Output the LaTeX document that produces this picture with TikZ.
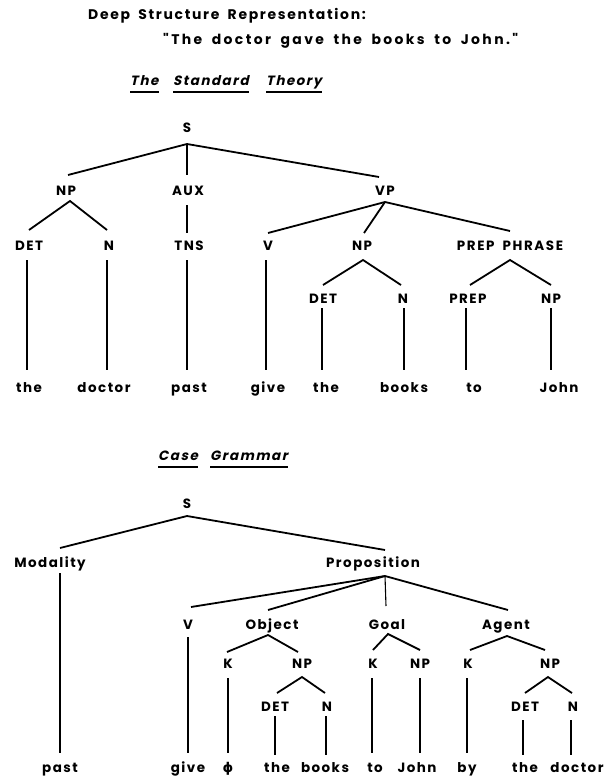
\documentclass[tikz,border=0pt]{standalone}
\usepackage{fontspec}
\setmainfont{Poppins}[LetterSpace=11]
\newfontfamily\slfont{Poppins}[FakeSlant=0.22,LetterSpace=11]
\newfontfamily\wideA{Poppins}[LetterSpace=12,WordSpace=1.8]
\newfontfamily\wideB{Poppins}[LetterSpace=17,WordSpace=1.8]
\newfontfamily\phifont{DejaVu Sans}
\usetikzlibrary{calc}
\begin{document}
\begin{tikzpicture}[x=1bp,y=-1bp,
  lab/.style={inner sep=0pt, anchor=base, font=\fontsize{13.5}{16}\selectfont\bfseries},
  ttl/.style={inner sep=0pt, anchor=base west},
  itl/.style={inner sep=0pt, anchor=base west, font=\fontsize{13.5}{16}\slfont\bfseries},
  br/.style={line width=1.8bp},
  stem/.style={line width=1.1bp},
  ul/.style={line width=1.5bp}]
\useasboundingbox (0,0) rectangle (613,779);
% titles
\node[ttl, font=\fontsize{14}{16}\wideA\bfseries] (t1) at (88,20) {Deep Structure Representation:};
\node[ttl, font=\fontsize{14}{16}\wideB\bfseries] (t2) at (163,45) {"The doctor gave the books to John."};
\node[itl] (w1) at (130,85) {The};
\node[itl] (w2) at (173,85) {Standard};
\node[itl] (w3) at (266,85) {Theory};
\foreach \w in {w1,w2,w3}{\draw[ul] ($(\w.base west)+(0,7)$) -- ($(\w.base east)+(0,7)$);}
% ---------- standard theory tree ----------
\node[lab] (S1) at (187,132) {S};
\coordinate (a0) at (187,144);
\node[lab] (NP1) at (66,195) {NP};
\coordinate (np1t) at (68,175); \coordinate (np1a) at (70,201);
\node[lab] (AUX) at (188,195) {AUX};
\coordinate (auxt) at (187,175); \coordinate (auxb) at (187,205);
\node[lab] (VP) at (385,195) {VP};
\coordinate (vpt) at (379,177); \coordinate (vpa) at (385,202);
\draw[br] (np1t) -- (a0) -- (vpt);
\draw[stem] (a0) -- (auxt);
\node[lab] (DET1) at (29,250) {DET};
\coordinate (det1t) at (29,230); \coordinate (det1b) at (27,260);
\node[lab] (N1) at (109,250) {N};
\coordinate (n1t) at (107,230); \coordinate (n1b) at (107,260);
\draw[br] (det1t) -- (np1a) -- (n1t);
\node[lab] (TNS) at (189,250) {TNS};
\coordinate (tnst) at (187,233); \coordinate (tnsb) at (187,260);
\draw[stem] (auxb) -- (tnst);
\node[lab] (V1) at (268,250) {V};
\coordinate (v1t) at (268,233); \coordinate (v1b) at (266,260);
\node[lab] (NP2) at (362,250) {NP};
\coordinate (np2t) at (364,233); \coordinate (np2a) at (363,260);
\node[lab, font=\fontsize{13.5}{16}\wideA\bfseries] (PP) at (510,250) {PREP PHRASE};
\coordinate (ppt) at (510,231); \coordinate (ppa) at (510,260);
\draw[br] (v1t) -- (vpa) -- (ppt);
\draw[br] (vpa) -- (np2t);
\node[lab] (DET2) at (323,303) {DET};
\coordinate (det2t) at (323,285); \coordinate (det2b) at (322,308);
\node[lab] (N2) at (403,303) {N};
\coordinate (n2t) at (401,285); \coordinate (n2b) at (404,308);
\draw[br] (det2t) -- (np2a) -- (n2t);
\node[lab] (PREP) at (468,303) {PREP};
\coordinate (prept) at (470,285); \coordinate (prepb) at (466,308);
\node[lab] (NP3) at (551,303) {NP};
\coordinate (np3t) at (551,285); \coordinate (np3b) at (551,308);
\draw[br] (prept) -- (ppa) -- (np3t);
% leaves
\node[lab] (L1) at (29,392) {the};
\node[lab] (L2) at (104,392) {doctor};
\node[lab] (L3) at (189,392) {past};
\node[lab] (L4) at (268,392) {give};
\node[lab] (L5) at (326,392) {the};
\node[lab] (L6) at (404,392) {books};
\node[lab] (L7) at (474,392) {to};
\node[lab] (L8) at (559,392) {John};
\coordinate (l1) at (27,370); \coordinate (l2) at (107,370);
\coordinate (l3) at (187,370); \coordinate (l4) at (266,370);
\coordinate (l5) at (322,370); \coordinate (l6) at (404,370);
\coordinate (l7) at (466,370); \coordinate (l8) at (551,370);
\draw[stem] (det1b) -- (l1);
\draw[stem] (n1b) -- (l2);
\draw[stem] (tnsb) -- (l3);
\draw[stem] (v1b) -- (l4);
\draw[stem] (det2b) -- (l5);
\draw[stem] (n2b) -- (l6);
\draw[stem] (prepb) -- (l7);
\draw[stem] (np3b) -- (l8);
% ---------- case grammar ----------
\node[itl] (c1) at (158,460) {Case};
\node[itl] (c2) at (210,460) {Grammar};
\foreach \w in {c1,c2}{\draw[ul] ($(\w.base west)+(0,7)$) -- ($(\w.base east)+(0,7)$);}
\node[lab] (S2) at (187,508) {S};
\coordinate (b0) at (187,516);
\node[lab] (MOD) at (50,567) {Modality};
\coordinate (modt) at (60,548); \coordinate (modb) at (60,573);
\node[lab] (PROP) at (373,567) {Proposition};
\coordinate (propt) at (385,550); \coordinate (propa) at (385,576);
\draw[br] (modt) -- (b0) -- (propt);
\node[lab] (V2) at (188,629) {V};
\coordinate (v2t) at (191,607); \coordinate (v2b) at (188,637);
\node[lab] (OBJ) at (272,629) {Object};
\coordinate (objt) at (268,610); \coordinate (obja) at (268,635);
\node[lab] (GOAL) at (387,629) {Goal};
\coordinate (goalt) at (386,606); \coordinate (goala) at (388,634);
\node[lab] (AG) at (506,629) {Agent};
\coordinate (agt) at (508,610); \coordinate (aga) at (507,636);
\draw[br] (v2t) -- (propa) -- (agt);
\draw[br] (propa) -- (objt);
\draw[stem] (propa) -- (goalt);
\node[lab] (K1) at (228,668) {K};
\coordinate (k1t) at (227,652); \coordinate (k1b) at (228,678);
\node[lab] (NP4) at (302,668) {NP};
\coordinate (np4t) at (298,652); \coordinate (np4a) at (302,677);
\draw[br] (k1t) -- (obja) -- (np4t);
\node[lab] (DET3) at (275,711) {DET};
\coordinate (det3t) at (277,693); \coordinate (det3b) at (275,716);
\node[lab] (N3) at (327,711) {N};
\coordinate (n3t) at (325,693); \coordinate (n3b) at (326,716);
\draw[br] (det3t) -- (np4a) -- (n3t);
\node[lab] (K2) at (373,668) {K};
\coordinate (k2t) at (373,650); \coordinate (k2b) at (372,678);
\node[lab] (NP5) at (420,668) {NP};
\coordinate (np5t) at (420,650); \coordinate (np5b) at (420,678);
\draw[br] (k2t) -- (goala) -- (np5t);
\node[lab] (K3) at (468,668) {K};
\coordinate (k3t) at (470,650); \coordinate (k3b) at (467,678);
\node[lab] (NP6) at (550,668) {NP};
\coordinate (np6t) at (545,650); \coordinate (np6a) at (548,677);
\draw[br] (k3t) -- (aga) -- (np6t);
\node[lab] (DET4) at (525,711) {DET};
\coordinate (det4t) at (525,693); \coordinate (det4b) at (523,720);
\node[lab] (N4) at (573,711) {N};
\coordinate (n4t) at (572,693); \coordinate (n4b) at (571,720);
\draw[br] (det4t) -- (np6a) -- (n4t);
% leaves
\node[lab] (M1) at (60,772) {past};
\node[lab] (M2) at (188,772) {give};
\node[lab] (M3) at (228,772) {\phifont\bfseries ϕ};
\node[lab] (M4) at (277,772) {the};
\node[lab] (M5) at (325,772) {books};
\node[lab] (M6) at (375,772) {to};
\node[lab] (M7) at (417,772) {John};
\node[lab] (M8) at (467,772) {by};
\node[lab] (M9) at (525,772) {the};
\node[lab] (M10) at (577,772) {doctor};
\coordinate (m1) at (60,753); \coordinate (m2) at (188,753);
\coordinate (m3) at (228,753); \coordinate (m4) at (275,755);
\coordinate (m5) at (326,755); \coordinate (m6) at (372,753);
\coordinate (m7) at (420,753); \coordinate (m8) at (467,753);
\coordinate (m9) at (523,755); \coordinate (m10) at (571,755);
\draw[stem] (modb) -- (m1);
\draw[stem] (v2b) -- (m2);
\draw[stem] (k1b) -- (m3);
\draw[stem] (det3b) -- (m4);
\draw[stem] (n3b) -- (m5);
\draw[stem] (k2b) -- (m6);
\draw[stem] (np5b) -- (m7);
\draw[stem] (k3b) -- (m8);
\draw[stem] (det4b) -- (m9);
\draw[stem] (n4b) -- (m10);
\end{tikzpicture}
\end{document}
